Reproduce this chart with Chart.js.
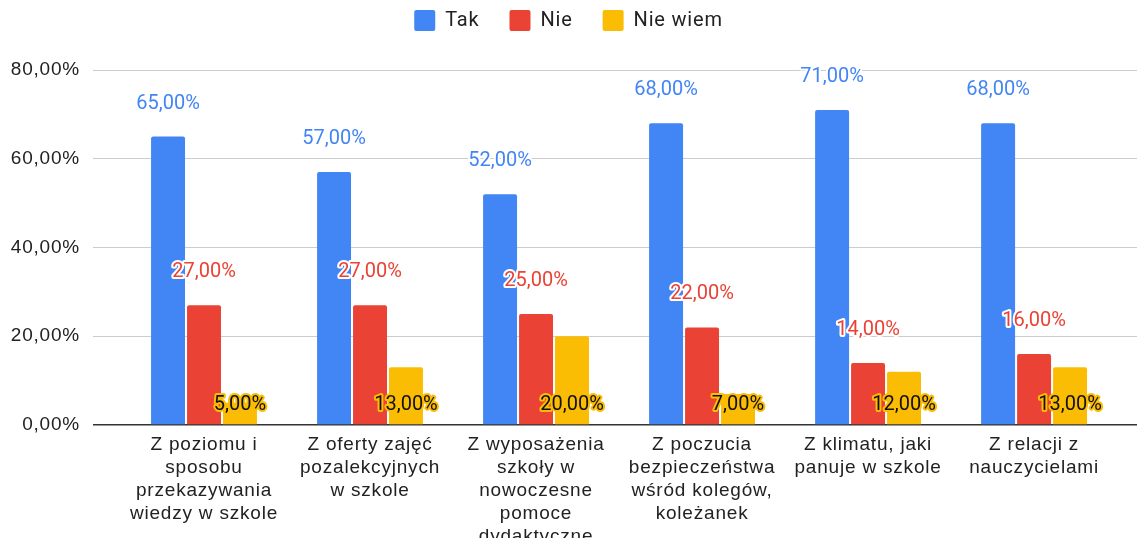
<!DOCTYPE html>
<html>
<head>
<meta charset="utf-8">
<script src="https://cdn.jsdelivr.net/npm/chart.js@4"></script>
<style>
html,body{margin:0;padding:0;background:#fff;}
#wrap{width:1138px;height:538px;position:relative;}
</style>
</head>
<body>
<div id="wrap"><canvas id="c" width="1138" height="538"></canvas></div>
<script>
const categories = [
  ["Z poziomu i", "sposobu", "przekazywania", "wiedzy w szkole"],
  ["Z oferty zajęć", "pozalekcyjnych", "w szkole"],
  ["Z wyposażenia", "szkoły w", "nowoczesne", "pomoce", "dydaktyczne"],
  ["Z poczucia", "bezpieczeństwa", "wśród kolegów,", "koleżanek"],
  ["Z klimatu, jaki", "panuje w szkole"],
  ["Z relacji z", "nauczycielami"]
];
const seriesNames = ["Tak", "Nie", "Nie wiem"];
const tak = [65, 57, 52, 68, 71, 68];
const nie = [27, 27, 25, 22, 14, 16];
const nieWiem = [5, 13, 20, 7, 12, 13];
const yTickValues = [0, 20, 40, 60, 80];

const fmt = v => v.toFixed(2).replace('.', ',') + '%';
const toPoints = arr => arr.map((v, i) => ({x: i, y: v}));

const spacing = {
  id: 'spacing',
  afterInit(chart) {
    const lg = chart.legend;
    if (lg && !lg._patched) {
      const orig = lg.fit;
      lg.fit = function () { orig.call(this); this.height = 90; };
      lg._patched = true;
    }
  },
  beforeLayout(chart) { chart.ctx.letterSpacing = '0.8px'; },
  beforeDraw(chart) { chart.ctx.letterSpacing = '0.8px'; }
};

const valueLabels = {
  id: 'valueLabels',
  afterDatasetsDraw(chart) {
    const ctx = chart.ctx;
    const y0 = chart.scales.y.getPixelForValue(0);
    chart.data.datasets.forEach((ds, di) => {
      const meta = chart.getDatasetMeta(di);
      meta.data.forEach((bar, i) => {
        const txt = fmt(ds.data[i].y);
        const y = ds.labelAtBase ? y0 - 20 : bar.y - 33;
        ctx.save();
        ctx.letterSpacing = '0px';
        ctx.font = '20px Roboto';
        ctx.textAlign = 'center';
        ctx.textBaseline = 'middle';
        ctx.lineJoin = 'round';
        ctx.lineWidth = 4;
        ctx.strokeStyle = ds.haloColor;
        ctx.strokeText(txt, bar.x, y);
        ctx.fillStyle = ds.labelColor;
        ctx.fillText(txt, bar.x, y);
        ctx.restore();
      });
    });
  }
};

new Chart(document.getElementById('c'), {
  type: 'bar',
  data: {
    datasets: [
      {label: seriesNames[0], data: toPoints(tak), backgroundColor: '#4285F4', labelColor: '#4285F4', haloColor: '#ffffff', borderRadius: 2},
      {label: seriesNames[1], data: toPoints(nie), backgroundColor: '#EA4335', labelColor: '#EA4335', haloColor: '#ffffff', borderRadius: 2},
      {label: seriesNames[2], data: toPoints(nieWiem), backgroundColor: '#FBBC04', labelColor: '#111111', haloColor: '#FBBC04', labelAtBase: true, borderRadius: 2}
    ]
  },
  options: {
    responsive: false,
    animation: false,
    categoryPercentage: 0.65,
    barPercentage: 0.944,
    layout: {padding: {top: -20, left: 0, right: 1, bottom: 0}},
    plugins: {
      legend: {
        position: 'top',
        labels: {
          boxWidth: 21,
          boxHeight: 21,
          padding: 30,
          useBorderRadius: true,
          borderRadius: 2,
          color: '#222',
          font: {family: 'Roboto', size: 20}
        }
      },
      tooltip: {enabled: false}
    },
    scales: {
      x: {
        type: 'linear',
        offset: false,
        min: -0.6687,
        max: 5.62,
        afterFit: s => { s.height = 113; },
        grid: {display: false, drawTicks: false},
        border: {display: false},
        ticks: {
          stepSize: 1,
          includeBounds: false,
          autoSkip: false,
          maxRotation: 0,
          padding: 8,
          color: '#222',
          font: {family: 'Liberation Sans', size: 19, lineHeight: '23px'},
          callback: v => (Number.isInteger(v) && categories[v]) ? categories[v] : ''
        }
      },
      y: {
        min: 0,
        max: 80,
        afterFit: s => { s.width = 93; },
        afterBuildTicks: s => { s.ticks = yTickValues.map(v => ({value: v})); },
        grid: {
          drawTicks: false,
          color: c => c.tick && c.tick.value === 0 ? '#333333' : '#cccccc',
          lineWidth: c => c.tick && c.tick.value === 0 ? 1.5 : 1
        },
        border: {display: false},
        ticks: {
          padding: 13,
          color: '#222',
          font: {family: 'Liberation Sans', size: 19},
          callback: v => fmt(v)
        }
      }
    }
  },
  plugins: [spacing, valueLabels]
});
</script>
</body>
</html>
